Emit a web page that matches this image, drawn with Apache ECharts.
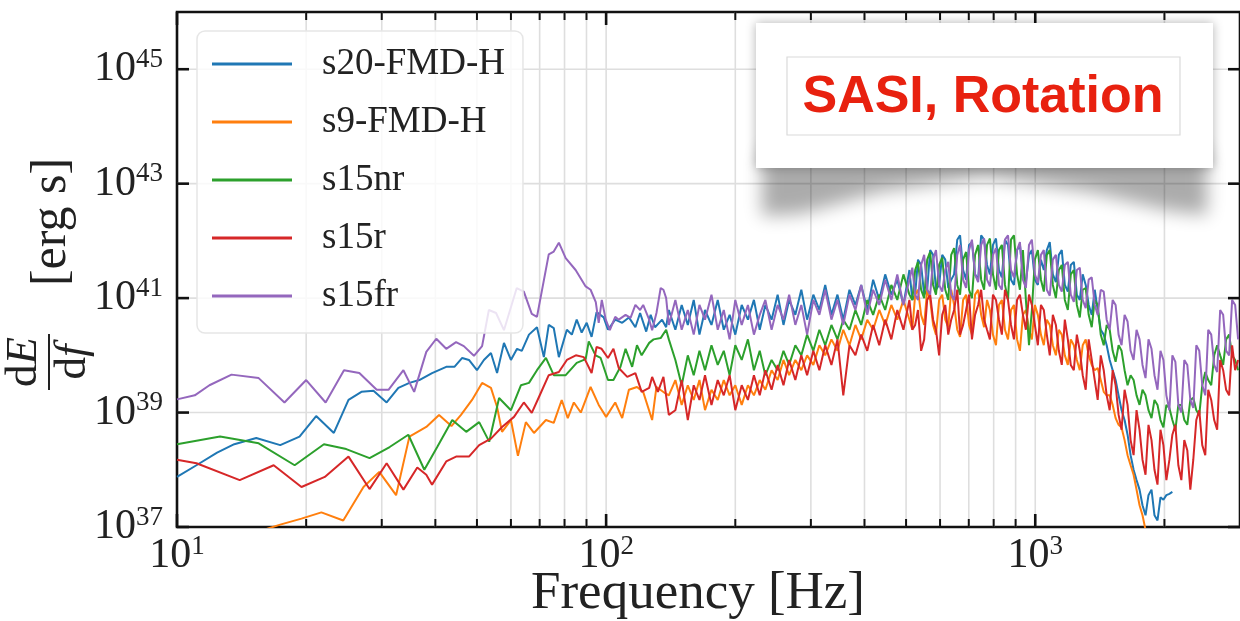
<!DOCTYPE html>
<html><head><meta charset="utf-8">
<script src="https://cdn.jsdelivr.net/npm/echarts@6/dist/echarts.min.js"></script>
<style>html,body{margin:0;padding:0;background:#fff;}#c{width:1240px;height:621px;}</style>
</head><body><div id="c"></div>
<script>
// ---------- data ----------
const seriesNames = ['s20-FMD-H', 's9-FMD-H', 's15nr', 's15r', 's15fr'];
const seriesColors = ['#1f77b4', '#ff7f0e', '#2ca02c', '#d62728', '#9467bd'];
const xMajorTicks = [10, 100, 1000];
const xMinorTicks = [20, 30, 40, 50, 60, 70, 80, 90, 200, 300, 400, 500, 600, 700, 800, 900, 2000];
const yMajorTicks = [1e37, 1e39, 1e41, 1e43, 1e45];
const xRange = [10, 3000];
const yRange = [1e37, 1e46];

// low-frequency part: [frequency Hz, dE/df]
const s20Low = [[10.0,7.5e37],[11.1,1.2e38],[12.4,2.0e38],[13.6,2.8e38],[15.3,3.6e38],[17.4,2.7e38],[19.3,3.8e38],[21.1,8.7e38],[23.2,4.4e38],[25.1,1.66e39],[26.9,2.3e39],[28.7,2.4e39],[30.8,1.5e39],[32.8,2.7e39],[34.8,3.3e39],[36.7,3.7e39],[39.3,4.9e39],[42.4,6.3e39],[44.3,6.3e39],[46.2,9.0e39],[47.9,8.3e39],[50.0,5.5e39],[51.9,8.3e39],[53.9,1.1e40],[55.7,4.9e39],[57.8,1.65e40],[60.0,8.3e39],[62.0,1.3e40],[63.6,1.2e40],[66.1,2.3e40],[69.0,3.1e40],[71.6,9.3e39],[73.5,3.4e40],[75.5,3.0e40],[77.6,9.3e39],[81.0,2.8e40],[83.2,2.3e40],[85.4,4.2e40],[87.7,2.5e40],[90.1,3.7e40],[92.5,2.1e40],[95.0,5.7e40],[98.7,4.6e40],[101,2.8e40],[105,4.2e40],[109,3.7e40],[113,4.6e40],[117,3.1e40],[120,5.5e40],[124,2.6e40],[127,5.1e40],[130,3.1e40],[135,4.2e40],[138,3.1e40]];
const s9Low = [[14.8,7.5e36],[17.4,1.1e37],[19.5,1.4e37],[21.7,1.8e37],[24.4,1.3e37],[27.2,5.0e37],[29.6,9.2e37],[32.4,3.6e37],[34.8,3.8e38],[38.1,5.6e38],[40.8,9.1e38],[43.6,5.8e38],[45.9,9.1e38],[48.7,1.66e39],[51.4,3.3e39],[53.9,2.7e39],[55.7,1.25e39],[57.2,4.6e38],[60.0,7.4e38],[62.3,1.75e38],[65.0,6.8e38],[67.9,4.4e38],[72.4,7.4e38],[75.5,6.6e38],[78.8,1.66e39],[81.4,8.0e38],[84.1,1.5e39],[87.3,1.0e39],[92.0,2.8e39],[96.1,1.36e39],[100,8.4e38],[105,1.5e39],[109,8.0e38],[113,2.5e39],[118,2.8e39],[122,2.3e39],[128,7.4e38],[131,2.8e39],[137,2.2e39]];
const s15nrLow = [[10.0,2.8e38],[12.6,3.8e38],[15.5,2.9e38],[18.8,1.2e38],[22.0,2.8e38],[24.8,2.3e38],[28.1,1.6e38],[31.3,2.5e38],[34.6,4.1e38],[37.7,1.0e38],[40.4,2.5e38],[43.8,7.4e38],[47.2,4.6e38],[50.6,6.8e38],[53.4,3.1e38],[56.3,1.8e39],[60.0,1.1e39],[63.3,3.0e39],[66.1,3.3e39],[69.0,5.5e39],[72.4,9.0e39],[75.5,4.5e39],[80.5,4.5e39],[85.4,7.4e39],[89.6,8.6e39],[91.1,1.75e40],[94.5,1.0e40],[97.1,9.0e39],[101,3.7e39],[104,3.7e39],[108,6.3e39],[111,1.3e40],[115,6.3e39],[118,1.5e40],[121,1.0e40],[126,1.65e40],[129,1.9e40],[134,2.0e40],[138,2.8e40]];
const s15rLow = [[10.0,1.5e38],[11.1,1.3e38],[14.0,6.6e37],[16.8,1.2e38],[19.5,5.0e37],[22.1,7.5e37],[25.1,1.7e38],[28.1,4.6e37],[30.8,1.3e38],[33.7,4.5e37],[36.3,1.1e38],[38.1,8.2e37],[39.3,5.5e37],[42.4,1.4e38],[44.7,1.7e38],[47.9,1.7e38],[50.6,2.7e38],[53.9,3.5e38],[57.2,5.6e38],[61.0,8.4e38],[64.3,1.5e39],[67.1,9.9e38],[69.7,1.85e39],[73.5,4.5e39],[77.6,5.1e39],[81.0,8.3e39],[85.0,1.0e40],[88.7,9.3e39],[92.5,4.9e39],[95.0,1.4e40],[97.6,1.3e40],[101,9.0e39],[104,1.3e40],[107,6.0e39],[112,4.2e39],[117,4.9e39],[121,2.3e39],[126,2.7e39],[128,4.2e39],[132,2.3e39],[136,4.2e39]];
const s15frLow = [[10.0,1.7e39],[11.0,2.0e39],[11.9,3.0e39],[13.4,4.6e39],[15.5,4.0e39],[17.8,1.5e39],[20.0,3.7e39],[22.2,1.5e39],[24.5,5.5e39],[26.6,4.9e39],[29.2,2.5e39],[31.1,2.5e39],[33.7,5.5e39],[35.7,2.3e39],[38.1,1.15e40],[40.2,1.95e40],[42.4,1.3e40],[44.7,1.7e40],[46.6,1.45e40],[49.2,9.8e39],[51.4,1.45e40],[53.3,6.2e40],[55.4,5.5e40],[57.8,2.75e40],[61.9,1.5e41],[64.3,1.3e41],[67.1,5.3e40],[69.0,4.7e40],[73.5,5.8e41],[75.5,6.5e41],[77.6,9.3e41],[80.5,5.0e41],[84.9,3.1e41],[89.6,1.6e41],[92.0,1.4e41],[94.6,8.5e40],[96.1,3.7e40],[97.7,9.3e40],[99.8,4.2e40],[102,2.75e40],[105,4.7e40],[107,4.2e40],[111,5.1e40],[114,4.5e40],[117,7.6e40],[120,6.2e40],[122,7.6e40],[126,4.2e40],[128,2.75e40],[131,5.5e40],[134,1.5e41],[136,1.4e41],[138,1.0e41]];

// high-frequency part: shared frequency grid (Hz) and values per series
const freqHi = [140,145,150,155,160,165,170,176,182,188,194,200,207,214,221,228,235,243,251,259,267,276,285,294,304,314,324,335,346,357,369,381,393,406,419,433,447,462,477,493,509,525,542,560,578,597,617,637,658,679,701,724,748,772,797,823,850,878,907,936,967,998,1031,1064,1099,1135,1172,1210,1250,1290,1332,1376,1421,1467,1515,1564,1615,1668,1722,1778,1836,1896,1958,2021,2087,2155,2225,2298,2373,2450,2530,2612,2697,2785,2876,2970];
const s20Hi = [6.2e40,2.8e40,7.6e40,3.4e40,9.3e40,2.3e40,6.2e40,3.4e40,9.3e40,2.8e40,
  5.1e40,2.3e40,7.6e40,4.2e40,9.3e40,2.8e40,7.6e40,4.2e40,1.15e41,3.4e40,
  9.3e40,5.1e40,1.4e41,4.2e40,1.15e41,6.2e40,1.7e41,5.1e40,1.15e41,4.2e40,
  1.4e41,7.6e40,1.7e41,6.2e40,2.1e41,9.3e40,2.6e41,1.15e41,2.1e41,7.6e40,
  3.1e41,1.15e41,3.8e41,1.4e41,5.7e41,1.7e41,4.7e41,2.1e41,1.05e42,3.1e41,
  8.5e41,2.6e41,1.25e42,3.8e41,8.5e41,3.1e41,1.05e42,2.1e41,6.9e41,2.6e41,
  5.7e41,2.1e41,4.7e41,6.9e41,2.6e41,5.7e41,1.7e41,3.8e41,1.15e41,2.6e41,
  7.6e40,1.4e41,2.8e40,1.5e40,5.5e39,2.0e39,7.4e38,1.8e38,6.6e37,2.4e37,
  3.6e37,1.6e37,3.3e37,3.6e37,4.1e37];
const s9Hi = [2.0e39,3.7e39,1.36e39,3.0e39,1.66e39,3.7e39,1.1e39,2.5e39,1.66e39,3.7e39,
  2.0e39,3.0e39,1.36e39,3.0e39,2.0e39,3.7e39,2.5e39,5.5e39,3.7e39,8.3e39,
  4.5e39,8.3e39,5.5e39,1.0e40,6.8e39,1.5e40,1.0e40,1.9e40,1.2e40,2.8e40,
  1.5e40,3.4e40,1.9e40,4.2e40,2.8e40,6.2e40,3.4e40,7.6e40,4.2e40,9.3e40,
  4.2e40,1.15e41,5.1e40,1.4e41,3.4e40,9.3e40,4.2e40,1.4e41,2.8e40,9.3e40,
  3.4e40,1.15e41,5.1e40,9.3e40,2.3e40,7.6e40,2.8e40,6.2e40,1.9e40,5.1e40,
  2.8e40,7.6e40,2.3e40,4.2e40,1.5e40,2.8e40,1.0e40,1.9e40,8.3e39,1.5e40,
  1.0e40,5.5e39,3.7e39,2.0e39,1.36e39,6.1e38,3.3e38,1.2e38,4.5e37,1.6e37,
  4.9e36];
const s15nrHi = [1.9e40,8.3e39,3.0e39,1.0e40,4.5e39,1.2e40,5.5e39,1.5e40,6.8e39,1.2e40,
  4.5e39,1.5e40,8.3e39,1.9e40,5.5e39,1.2e40,4.5e39,8.3e39,5.5e39,1.2e40,
  6.8e39,1.5e40,1.0e40,2.3e40,1.2e40,2.8e40,1.5e40,3.4e40,1.9e40,4.2e40,
  2.8e40,6.2e40,3.4e40,9.3e40,5.1e40,1.15e41,6.2e40,1.7e41,9.3e40,2.6e41,
  1.15e41,3.1e41,1.4e41,4.7e41,1.7e41,3.8e41,1.4e41,5.7e41,1.7e41,4.7e41,
  1.4e41,5.7e41,2.1e41,8.5e41,2.6e41,6.9e41,1.7e41,1.05e42,2.6e41,6.9e41,
  1.5e40,4.7e41,2.1e41,5.7e41,1.7e41,3.1e41,9.3e40,2.6e41,7.6e40,1.4e41,
  5.1e40,9.3e40,2.3e40,3.4e40,1.2e40,1.5e40,5.5e39,4.5e39,2.0e39,2.5e39,
  1.1e39,1.66e39,7.4e38,1.36e39,7.4e38,1.36e39,7.4e38,1.66e39,1.1e39,3.0e39,
  3.7e39,1.0e40,1.0e40,1.9e40,1.0e40,5.5e39];
const s15rHi = [9.1e38,1.1e39,3.7e39,7.4e38,3.0e39,1.66e39,4.5e39,1.36e39,3.7e39,2.0e39,
  4.5e39,1.1e39,3.0e39,1.66e39,4.5e39,2.0e39,5.5e39,2.5e39,6.8e39,3.0e39,
  8.3e39,3.7e39,1.0e40,4.5e39,1.2e40,5.5e39,1.5e40,6.8e39,1.9e40,2.0e39,
  1.5e40,1.0e40,2.3e40,1.2e40,3.4e40,1.5e40,4.2e40,1.9e40,6.2e40,2.8e40,
  9.3e40,3.4e40,1.2e40,9.3e40,4.2e40,1.0e40,7.6e40,4.2e40,1.4e41,3.4e40,
  1.15e41,5.1e40,1.4e41,2.8e40,1.15e41,4.2e40,1.4e41,3.4e40,9.3e40,5.1e40,
  1.15e41,3.4e40,7.6e40,2.3e40,5.1e40,1.2e40,4.2e40,6.8e39,2.3e40,4.5e39,
  1.9e40,3.7e39,1.0e40,2.0e39,5.5e39,9.1e38,2.5e39,3.3e38,1.1e39,1.5e38,
  6.1e38,1.0e38,5.0e38,6.6e37,4.1e38,1.2e38,3.3e38,4.5e37,7.4e38,2.7e38,
  2.5e39,7.4e38,8.3e39,2.5e39,1.5e40,8.3e39];
const s15frHi = [3.4e40,9.3e40,2.8e40,6.2e40,2.3e40,7.6e40,4.2e40,1.15e41,2.8e40,6.2e40,
  1.9e40,9.3e40,3.4e40,7.6e40,2.3e40,5.1e40,9.3e40,2.8e40,7.6e40,4.2e40,
  1.15e41,3.4e40,7.6e40,2.3e40,9.3e40,5.1e40,1.4e41,4.2e40,9.3e40,3.4e40,
  1.15e41,6.2e40,1.7e41,5.1e40,1.4e41,7.6e40,2.1e41,9.3e40,2.6e41,7.6e40,
  2.1e41,1.15e41,3.8e41,1.4e41,4.7e41,1.7e41,3.1e41,1.15e41,5.7e41,2.1e41,
  6.9e41,2.6e41,8.5e41,2.1e41,5.7e41,1.7e41,1.05e42,3.1e41,6.9e41,2.1e41,
  8.5e41,2.6e41,5.7e41,1.4e41,4.7e41,1.7e41,3.8e41,1.15e41,3.1e41,9.3e40,
  2.1e41,7.6e40,1.4e41,4.2e40,9.3e40,2.3e40,5.1e40,1.2e40,2.8e40,6.8e39,
  1.9e40,4.5e39,1.2e40,2.0e39,1.0e40,1.36e39,8.3e39,1.66e39,1.5e40,3.0e39,
  2.8e40,6.8e39,6.2e40,1.2e40,9.3e40,1.9e40];

// extra in-between samples above ~500 Hz (denser noise band)
const freqMid = [517,533,551,569,587,607,627,647,668,690,712,736,760,784,810,836,864,892,921,951,982,1014,1047,1081,1117,1153,1191,1230,1270,1311,1354,1398,1444,1491,1539,1589,1641,1695,1750,1807,1866,1927,1989,2054,2121,2190,2261,2335,2411,2490,2571,2654,2741,2830,2923];
const s20Mid = [9.3e40,4.7e41,1.15e41,6.9e41,1.4e41,5.7e41,1.5e41,2.6e41,1.25e42,2.1e41,
  9.5e41,2.1e41,1.05e42,2.6e41,1.1e42,2.3e41,8.5e41,1.7e41,8.5e41,1.9e41,
  6.9e41,1.7e41,3.1e41,9.5e41,1.9e41,6.9e41,1.3e41,4.3e41,9.3e40,1.7e41,
  5.1e40,6.2e40,2.3e40,8.3e39,3.7e39,1.1e39,4.1e38,1.0e38,4.5e37,1.6e37,
  4.5e37,1.3e37,3.0e37,3.8e37];
const s9Mid = [2.8e40,1.4e41,3.4e40,9.3e40,2.3e40,1.15e41,3.1e40,7.6e40,2.1e40,1.15e41,
  2.3e40,1.4e41,3.1e40,6.2e40,1.5e40,9.3e40,1.9e40,7.6e40,1.2e40,6.2e40,
  1.9e40,5.1e40,1.5e40,3.4e40,1.0e40,2.3e40,6.8e39,1.5e40,5.5e39,1.9e40,
  6.8e39,6.0e39,2.3e39,2.0e39,8.0e38,5.5e38,1.8e38,8.2e37,2.4e37,8.9e36];
const s15nrMid = [9.3e40,4.3e41,1.0e41,6.4e41,1.15e41,5.1e41,9.3e40,7.5e41,1.15e41,6.4e41,
  1.0e41,8.5e41,1.4e41,1.1e42,1.4e41,8.5e41,9.3e40,1.25e42,1.4e41,9.3e40,
  6.2e40,6.9e41,1.3e41,6.9e41,1.0e41,3.8e41,6.2e40,3.1e41,4.6e40,1.5e41,
  3.1e40,7.6e40,1.5e40,2.8e40,7.7e39,1.2e40,3.0e39,3.7e39,1.36e39,2.0e39,
  8.0e38,1.36e39,5.5e38,1.2e39,5.0e38,1.36e39,6.1e38,1.8e39,9.1e38,5.1e39,
  3.0e39,1.5e40,6.8e39,2.3e40,8.3e39];
const s15rMid = [2.8e40,6.2e40,1.9e40,1.15e41,2.8e40,5.1e40,2.3e40,6.2e40,2.3e40,6.2e40,
  1.9e40,7.6e40,4.2e40,1.9e40,9.3e40,2.3e40,9.3e40,1.9e40,1.15e41,2.8e40,
  7.6e40,1.5e40,6.2e40,1.0e40,3.4e40,6.8e39,1.9e40,5.5e39,1.2e40,2.5e39,
  8.3e39,1.66e39,5.5e39,1.1e39,3.0e39,5.0e38,1.36e39,1.8e38,5.0e38,8.2e37,
  3.3e38,5.5e37,2.7e38,1.5e38,6.1e38,6.6e37,2.2e38,1.5e38,1.1e39,1.8e38,
  1.66e39,5.0e38,5.5e39,2.0e39,5.5e39];
const s15frMid = [3.4e41,9.3e40,5.7e41,1.15e41,6.9e41,1.3e41,4.3e41,9.3e40,8.5e41,1.5e41,
  1.05e42,1.9e41,1.1e42,1.6e41,7.5e41,1.4e41,1.25e42,2.3e41,9.5e41,1.5e41,
  1.05e42,1.85e41,6.9e41,1.1e41,5.7e41,1.3e41,4.3e41,8.6e40,3.4e41,6.7e40,
  2.3e41,5.1e40,1.3e41,2.8e40,7.6e40,1.5e40,3.9e40,8.3e39,1.9e40,4.0e39,
  1.3e40,2.5e39,8.3e39,1.1e39,7.7e39,1.0e39,6.8e39,1.2e39,1.2e40,2.0e39,
  2.3e40,5.1e39,5.1e40,1.0e40,7.6e40];

// ---------- chart ----------
const SERIF = '"Liberation Serif", "DejaVu Serif", serif';
const TXT = '#222';
function join(low, hi, mid) {
  const pts = low.concat(hi.map((v, i) => [freqHi[i], v]), mid.map((v, k) => [freqMid[k], v]));
  return pts.sort((a, b) => a[0] - b[0]);
}
const seriesData = [
  join(s20Low, s20Hi, s20Mid), join(s9Low, s9Hi, s9Mid), join(s15nrLow, s15nrHi, s15nrMid),
  join(s15rLow, s15rHi, s15rMid), join(s15frLow, s15frHi, s15frMid)
];

function powLabel(v, oddOnly) {
  const e = Math.log10(v), r = Math.round(e);
  if (Math.abs(e - r) > 1e-6) return '';
  if (oddOnly && Math.abs(r % 2) !== 1) return '';
  return '{b|10}{s|' + r + '}';
}
const labelRich = {
  b: { fontFamily: SERIF, fontSize: 42, color: TXT, lineHeight: 46 },
  s: { fontFamily: SERIF, fontSize: 27, color: TXT, lineHeight: 30, verticalAlign: 'top' }
};

const tickItems = []
  .concat(xMajorTicks.map(f => [f, yRange[0], 0]))
  .concat(xMinorTicks.map(f => [f, yRange[0], 1]))
  .concat(yMajorTicks.map(v => [xRange[0], v, 2]));
const gridItems = []
  .concat(xMajorTicks.slice(1).map(f => [f, yRange[0], 0]))
  .concat(xMinorTicks.map(f => [f, yRange[0], 1]))
  .concat(yMajorTicks.slice(1).map(v => [xRange[0], v, 2]));

function gridRender(params, api) {
  const cs = params.coordSys;
  const st = { stroke: '#dedede', lineWidth: 1.6 };
  if (api.value(2) < 2) {
    const px = api.coord([api.value(0), yRange[0]])[0];
    return { type: 'line', shape: { x1: px, y1: cs.y, x2: px, y2: cs.y + cs.height }, style: st };
  }
  const py = api.coord([xRange[0], api.value(1)])[1];
  return { type: 'line', shape: { x1: cs.x, y1: py, x2: cs.x + cs.width, y2: py }, style: st };
}
function tickRender(params, api) {
  const cs = params.coordSys, kind = api.value(2);
  const top = cs.y, bot = cs.y + cs.height, left = cs.x, right = cs.x + cs.width;
  if (kind < 2) {
    const px = api.coord([api.value(0), yRange[0]])[0];
    const len = kind === 0 ? 13 : 8, w = kind === 0 ? 2.6 : 2;
    const st = { stroke: '#111', lineWidth: w };
    return { type: 'group', children: [
      { type: 'line', shape: { x1: px, y1: bot, x2: px, y2: bot - len }, style: st },
      { type: 'line', shape: { x1: px, y1: top, x2: px, y2: top + len }, style: st }
    ] };
  }
  const py = api.coord([xRange[0], api.value(1)])[1];
  const st = { stroke: '#111', lineWidth: 2.6 };
  return { type: 'group', children: [
    { type: 'line', shape: { x1: left, y1: py, x2: left + 12, y2: py }, style: st },
    { type: 'line', shape: { x1: right, y1: py, x2: right - 12, y2: py }, style: st }
  ] };
}

const series = seriesNames.map((n, i) => ({
  name: n, type: 'line', data: seriesData[i], showSymbol: false, symbol: 'none',
  color: seriesColors[i], lineStyle: { width: 2, color: seriesColors[i] }, z: 2 + i * 0.01,
  clip: true, silent: true
}));
series.unshift({ name: 'gridlines', type: 'custom', renderItem: gridRender, data: gridItems, z: 1, silent: true, clip: false });
series.push({ name: 'ticks', type: 'custom', renderItem: tickRender, data: tickItems, z: 3, silent: true, clip: false });

// curled shadow under the annotation card (drawn off-screen, only its blurred shadow is shifted back)
const SH = 3000;
const shadowPts = [[762,150],[762,216],[800,214],[880,192],[985,177],[1090,192],[1170,211],[1207,215],[1207,150]];

const option = {
  animation: false,
  backgroundColor: '#fff',
  grid: { left: 177, top: 12, width: 1066, height: 515, show: true, borderColor: '#111', borderWidth: 2.6, backgroundColor: 'transparent' },
  xAxis: {
    type: 'log', logBase: 10, min: xRange[0], max: xRange[1],
    axisLine: { show: false }, axisTick: { show: false }, splitLine: { show: false }, minorTick: { show: false },
    axisLabel: { margin: 6, formatter: v => powLabel(v, false), rich: labelRich, showMaxLabel: false }
  },
  yAxis: {
    type: 'log', logBase: 10, min: yRange[0], max: yRange[1],
    axisLine: { show: false }, axisTick: { show: false }, splitLine: { show: false }, minorTick: { show: false },
    axisLabel: { margin: 14, formatter: v => powLabel(v, true), rich: labelRich, showMaxLabel: false }
  },
  legend: {
    data: seriesNames, orient: 'vertical', left: 197, top: 31, selectedMode: false,
    icon: 'rect', itemWidth: 80, itemHeight: 3, itemGap: 18,
    padding: [13, 18, 17, 15], backgroundColor: 'rgba(255,255,255,0.82)',
    borderColor: '#e6e6e6', borderWidth: 1.5, borderRadius: 8,
    textStyle: { fontFamily: SERIF, fontSize: 37, color: TXT, lineHeight: 40, padding: [0, 0, 0, 25] }
  },
  graphic: { elements: [
    { type: 'polygon', z: 100, silent: true, shape: { points: shadowPts.map(p => [p[0] - SH, p[1]]) },
      style: { fill: '#000', shadowBlur: 18, shadowColor: 'rgba(0,0,0,0.33)', shadowOffsetX: SH } },
    { type: 'rect', z: 101, silent: true, shape: { x: 756, y: 23, width: 457, height: 145 },
      style: { fill: '#fff', shadowBlur: 10, shadowColor: 'rgba(0,0,0,0.3)' } },
    { type: 'rect', z: 102, silent: true, shape: { x: 787, y: 57, width: 393, height: 78 },
      style: { fill: '#fff', stroke: '#dadada', lineWidth: 1.2 } },
    { type: 'text', z: 103, silent: true, x: 983, y: 98,
      style: { text: 'SASI, Rotation', fill: '#e8210f', fontSize: 52, fontWeight: 'bold', fontFamily: '"Liberation Sans", Arial, sans-serif', align: 'center', verticalAlign: 'middle' } },
    { type: 'text', z: 103, silent: true, x: 698, y: 594,
      style: { text: 'Frequency [Hz]', fill: TXT, fontSize: 53, fontFamily: SERIF, align: 'center', verticalAlign: 'middle' } },
    { type: 'text', z: 103, silent: true, x: 52, y: 222, rotation: Math.PI / 2,
      style: { text: '[erg s]', fill: TXT, fontSize: 50, fontFamily: SERIF, align: 'center', verticalAlign: 'middle' } },
    { type: 'group', z: 103, silent: true, x: 49, y: 362, rotation: Math.PI / 2, children: [
      { type: 'text', x: 0, y: -2, style: { text: '{r|d}{i|E}', align: 'center', verticalAlign: 'bottom',
        rich: { r: { fontFamily: SERIF, fontSize: 45, fill: TXT }, i: { fontFamily: SERIF, fontSize: 45, fontStyle: 'italic', fill: TXT } } } },
      { type: 'line', shape: { x1: -28, y1: 0, x2: 28, y2: 0 }, style: { stroke: TXT, lineWidth: 2 } },
      { type: 'text', x: 0, y: 2, style: { text: '{r|d}{i|f}', align: 'center', verticalAlign: 'top',
        rich: { r: { fontFamily: SERIF, fontSize: 45, fill: TXT }, i: { fontFamily: SERIF, fontSize: 45, fontStyle: 'italic', fill: TXT } } } }
    ] }
  ] },
  series: series
};
const chart = echarts.init(document.getElementById('c'), null, { renderer: 'canvas' });
chart.setOption(option);
</script>
</body></html>
